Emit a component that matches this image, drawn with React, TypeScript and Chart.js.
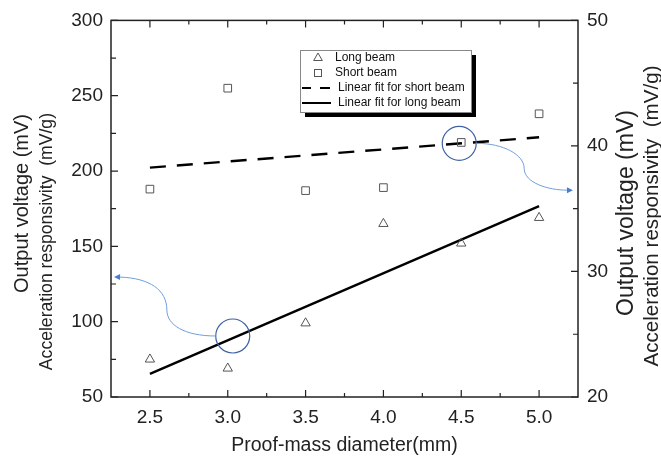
import { useEffect, useRef } from 'react';
import { Chart, registerables } from 'chart.js';

Chart.register(...registerables);

const FONT = "'Liberation Sans', Arial, sans-serif";

const diameters = [2.5, 3.0, 3.5, 4.0, 4.5, 5.0];
const longBeam = [75, 69, 99, 165, 152, 169];
const shortBeam = [188, 255, 187, 189, 219, 238];
const fitX = [2.5, 5.0];
const shortFit = [202.3, 222.4];
const longFit = [65.3, 176.7];

const xTicks = [2.5, 3.0, 3.5, 4.0, 4.5, 5.0];
const xMinorTicks = [2.75, 3.25, 3.75, 4.25, 4.75];
const yLeftTicks = [50, 100, 150, 200, 250, 300];
const yLeftMinor = [75, 125, 175, 225, 275];
const yRightTicks = [20, 30, 40, 50];
const yRightMinor = [25, 35, 45];

const xTitle = 'Proof-mass diameter(mm)';
const yTitleLines = ['Output voltage (mV)', 'Acceleration responsivity  (mV/g)'];
const legendLabels = ['Long beam', 'Short beam', 'Linear fit for short beam', 'Linear fit for long beam'];

// annotation anchors in data units (x, left-axis y)
const circleCenters = [[3.032, 90.5], [4.487, 218.4]];
const arrowLeft = [[2.923, 90.5], [2.724, 90.5], [2.609, 97.7], [2.609, 107.7], [2.609, 121.0], [2.5, 128.9], [2.308, 129.6]];
const arrowRight = [[4.596, 218.4], [4.776, 218.4], [4.904, 210.5], [4.904, 201.9], [4.904, 191.9], [5.064, 187.3], [5.179, 187.3]];

const MARK = '#555555';

const decorPlugin = {
  id: 'decor',
  afterDraw(chart: any) {
    const ctx = chart.ctx;
    const { left, right, top, bottom } = chart.chartArea;
    const sx = chart.scales.x;
    const sy = chart.scales.y;
    const sy2 = chart.scales.y2;
    ctx.save();

    // annotations
    const P = (p: number[]) => [sx.getPixelForValue(p[0]), sy.getPixelForValue(p[1])];
    ctx.strokeStyle = '#3f62a3';
    ctx.lineWidth = 1.2;
    circleCenters.forEach((c) => {
      const [cx, cy] = P(c);
      ctx.beginPath();
      ctx.arc(cx, cy, 17, 0, Math.PI * 2);
      ctx.stroke();
    });
    const drawArrow = (pts: number[][]) => {
      const q = pts.map(P);
      ctx.strokeStyle = '#6f9edb';
      ctx.lineWidth = 1;
      ctx.beginPath();
      ctx.moveTo(q[0][0], q[0][1]);
      for (let i = 1; i + 2 < q.length; i += 3) {
        ctx.bezierCurveTo(q[i][0], q[i][1], q[i + 1][0], q[i + 1][1], q[i + 2][0], q[i + 2][1]);
      }
      ctx.stroke();
      const e = q[q.length - 1];
      const c = q[q.length - 2];
      const ang = Math.atan2(e[1] - c[1], e[0] - c[0]);
      ctx.fillStyle = '#4a7dcc';
      ctx.beginPath();
      ctx.moveTo(e[0] + Math.cos(ang) * 6, e[1] + Math.sin(ang) * 6);
      ctx.lineTo(e[0] + Math.cos(ang + Math.PI / 2) * 3, e[1] + Math.sin(ang + Math.PI / 2) * 3);
      ctx.lineTo(e[0] + Math.cos(ang - Math.PI / 2) * 3, e[1] + Math.sin(ang - Math.PI / 2) * 3);
      ctx.closePath();
      ctx.fill();
    };
    drawArrow(arrowLeft);
    drawArrow(arrowRight);

    // frame
    ctx.strokeStyle = '#222';
    ctx.lineWidth = 1.5;
    ctx.strokeRect(left, top, right - left, bottom - top);

    // ticks (inward)
    ctx.lineWidth = 1.2;
    ctx.beginPath();
    const hTick = (v: number, len: number) => {
      const px = sx.getPixelForValue(v);
      ctx.moveTo(px, bottom); ctx.lineTo(px, bottom - len);
      ctx.moveTo(px, top); ctx.lineTo(px, top + len);
    };
    xTicks.forEach((v) => hTick(v, 7));
    xMinorTicks.forEach((v) => hTick(v, 4));
    yLeftTicks.forEach((v) => { const py = sy.getPixelForValue(v); ctx.moveTo(left, py); ctx.lineTo(left + 7, py); });
    yLeftMinor.forEach((v) => { const py = sy.getPixelForValue(v); ctx.moveTo(left, py); ctx.lineTo(left + 5, py); });
    yRightTicks.forEach((v) => { const py = sy2.getPixelForValue(v); ctx.moveTo(right, py); ctx.lineTo(right - 7, py); });
    yRightMinor.forEach((v) => { const py = sy2.getPixelForValue(v); ctx.moveTo(right, py); ctx.lineTo(right - 5, py); });
    ctx.stroke();

    // titles
    ctx.fillStyle = '#222';
    ctx.textBaseline = 'middle';
    ctx.textAlign = 'center';
    ctx.font = `19.5px ${FONT}`;
    ctx.fillText(xTitle, (left + right) / 2, 446);

    const rot = (txt: string, x: number, y: number, size: number, align: CanvasTextAlign) => {
      ctx.save();
      ctx.translate(x, y);
      ctx.rotate(-Math.PI / 2);
      ctx.textAlign = align;
      ctx.font = `${size}px ${FONT}`;
      ctx.fillText(txt, 0, 0);
      ctx.restore();
    };
    rot(yTitleLines[0], 22, 114, 20, 'right');
    rot(yTitleLines[1], 47, 113, 17.6, 'right');
    rot(yTitleLines[0], 627, 213, 23, 'center');
    rot(yTitleLines[1], 652, 216, 20.6, 'center');

    // legend
    const bx = 300, by = 50, bw = 171, bh = 62;
    ctx.fillStyle = '#000';
    ctx.fillRect(bx + 5, by + 5, bw, bh);
    ctx.fillStyle = '#fff';
    ctx.fillRect(bx, by, bw, bh);
    ctx.strokeStyle = '#888';
    ctx.lineWidth = 1;
    ctx.strokeRect(bx + 0.5, by + 0.5, bw, bh);
    const rows = [58, 73, 88, 103];
    ctx.font = `12px ${FONT}`;
    ctx.textAlign = 'left';
    ctx.fillStyle = '#111';
    ctx.fillText(legendLabels[0], 335, rows[0]);
    ctx.fillText(legendLabels[1], 335, rows[1]);
    ctx.fillText(legendLabels[2], 338, rows[2]);
    ctx.fillText(legendLabels[3], 338, rows[3]);
    // markers
    ctx.strokeStyle = MARK;
    ctx.lineWidth = 1;
    ctx.beginPath();
    const r = 5;
    ctx.moveTo(318, rows[0] - r);
    ctx.lineTo(318 + r * 0.866, rows[0] + r / 2);
    ctx.lineTo(318 - r * 0.866, rows[0] + r / 2);
    ctx.closePath();
    ctx.stroke();
    ctx.strokeRect(314.5, rows[1] - 3.5, 7, 7);
    ctx.strokeStyle = '#000';
    ctx.lineWidth = 2.2;
    ctx.beginPath();
    ctx.moveTo(302, rows[2]); ctx.lineTo(311, rows[2]);
    ctx.moveTo(320, rows[2]); ctx.lineTo(330, rows[2]);
    ctx.moveTo(302, rows[3]); ctx.lineTo(331, rows[3]);
    ctx.stroke();

    ctx.restore();
  },
};

export default function App() {
  const ref = useRef<HTMLCanvasElement>(null);
  useEffect(() => {
    const canvas = ref.current!;
    const tickFont = { size: 19, family: FONT };
    const chart = new Chart(canvas, {
      type: 'line',
      data: {
        datasets: [
          {
            label: legendLabels[0],
            data: diameters.map((x, i) => ({ x, y: longBeam[i] })),
            showLine: false,
            pointStyle: 'triangle',
            pointRadius: 5.4,
            pointBorderWidth: 1,
            pointBorderColor: MARK,
            pointBackgroundColor: 'rgba(0,0,0,0)',
            yAxisID: 'y',
          },
          {
            label: legendLabels[1],
            data: diameters.map((x, i) => ({ x, y: shortBeam[i] })),
            showLine: false,
            pointStyle: 'rect',
            pointRadius: 5.4,
            pointBorderWidth: 1,
            pointBorderColor: MARK,
            pointBackgroundColor: 'rgba(0,0,0,0)',
            yAxisID: 'y',
          },
          {
            label: legendLabels[2],
            data: fitX.map((x, i) => ({ x, y: shortFit[i] })),
            borderColor: '#000',
            borderWidth: 2.4,
            borderDash: [16, 11],
            pointRadius: 0,
            tension: 0,
            yAxisID: 'y',
          },
          {
            label: legendLabels[3],
            data: fitX.map((x, i) => ({ x, y: longFit[i] })),
            borderColor: '#000',
            borderWidth: 2.4,
            pointRadius: 0,
            tension: 0,
            yAxisID: 'y',
          },
        ],
      },
      options: {
        animation: false,
        responsive: false,
        layout: { padding: { top: 20, left: 0, right: 0, bottom: 0 } },
        plugins: { legend: { display: false }, tooltip: { enabled: false } },
        scales: {
          x: {
            type: 'linear',
            min: 2.25,
            max: 5.25,
            grid: { display: false, drawTicks: false },
            border: { display: false },
            afterBuildTicks: (s: any) => { s.ticks = xTicks.map((v) => ({ value: v })); },
            afterFit: (s: any) => { s.height = 62; },
            ticks: { font: tickFont, color: '#222', padding: 9, maxRotation: 0, autoSkip: false, callback: (v: any) => Number(v).toFixed(1) },
          },
          y: {
            type: 'linear',
            position: 'left',
            min: 50,
            max: 300,
            grid: { display: false, drawTicks: false },
            border: { display: false },
            afterBuildTicks: (s: any) => { s.ticks = yLeftTicks.map((v) => ({ value: v })); },
            afterFit: (s: any) => { s.width = 111; },
            ticks: { font: tickFont, color: '#222', padding: 8, autoSkip: false, callback: (v: any) => String(v) },
          },
          y2: {
            type: 'linear',
            position: 'right',
            min: 20,
            max: 50,
            grid: { display: false, drawTicks: false },
            border: { display: false },
            afterBuildTicks: (s: any) => { s.ticks = yRightTicks.map((v) => ({ value: v })); },
            afterFit: (s: any) => { s.width = 83; },
            ticks: { font: tickFont, color: '#222', padding: 9, autoSkip: false, callback: (v: any) => String(v) },
          },
        },
      },
      plugins: [decorPlugin],
    } as any);
    return () => chart.destroy();
  }, []);
  return (
    <div style={{ position: 'absolute', left: 0, top: 0, width: 661, height: 459, background: '#fff' }}>
      <canvas ref={ref} width={661} height={459} style={{ display: 'block' }} />
    </div>
  );
}
